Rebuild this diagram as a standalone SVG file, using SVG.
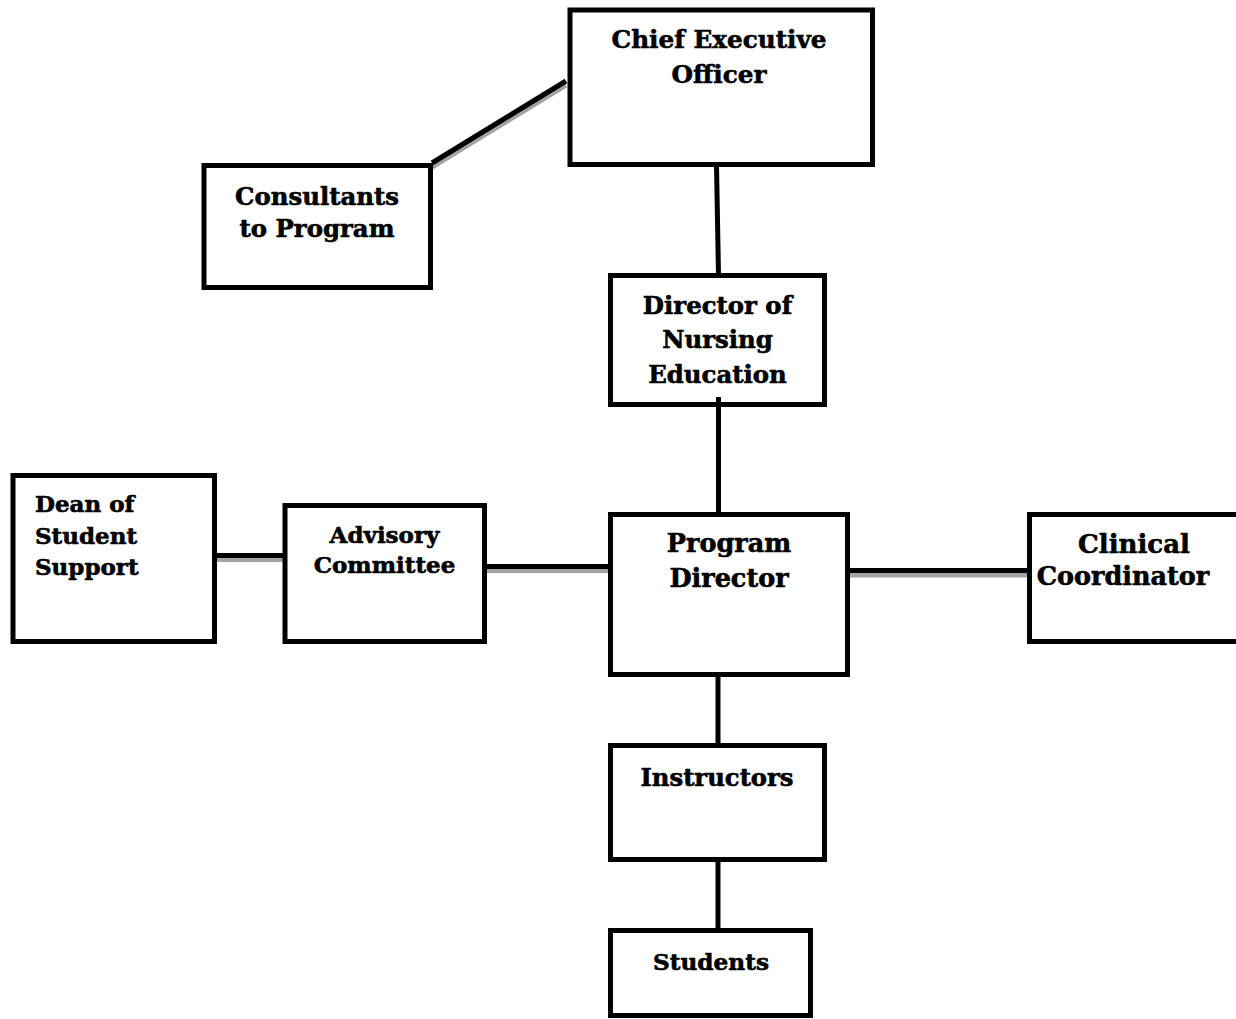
<svg xmlns="http://www.w3.org/2000/svg" width="1236" height="1019" viewBox="0 0 1236 1019">
<style>
.box{fill:none;stroke:#000;stroke-width:5}
.ln{stroke:#000;stroke-width:5;fill:none}
.sh{stroke:#a3a3a3;stroke-width:5;fill:none}
text{font-family:"DejaVu Serif","Liberation Serif",serif;font-weight:bold;fill:#000;stroke:#000;stroke-width:0.6}
.c{text-anchor:middle}
</style>
<rect width="1236" height="1019" fill="#fff"/>
<g id="connectors">
<line class="sh" x1="432" y1="167" x2="566" y2="85"/>
<line class="ln" x1="432" y1="163" x2="566" y2="81"/>
<line class="ln" x1="716.5" y1="165" x2="718.5" y2="275"/>
<line class="ln" x1="718.5" y1="397" x2="718.5" y2="514"/>
<line class="sh" x1="214" y1="559.5" x2="285" y2="559.5"/>
<line class="ln" x1="214" y1="555.5" x2="285" y2="555.5"/>
<line class="sh" x1="484" y1="570.5" x2="610" y2="570.5"/>
<line class="ln" x1="484" y1="566.5" x2="610" y2="566.5"/>
<line class="sh" x1="847" y1="575" x2="1029" y2="575"/>
<line class="ln" x1="847" y1="570.5" x2="1029" y2="570.5"/>
<line class="ln" x1="718" y1="675" x2="718" y2="746"/>
<line class="ln" x1="718" y1="859" x2="718" y2="931"/>
</g>
<g id="ceo">
<rect class="box" x="570" y="10" width="302.5" height="154.5"/>
<text class="c" x="719" y="48" font-size="24.7">Chief Executive</text>
<text class="c" x="719" y="83" font-size="24.7">Officer</text>
</g>
<g id="consultants">
<rect class="box" x="204" y="165.5" width="226.5" height="122"/>
<text class="c" x="317" y="205" font-size="24.4">Consultants</text>
<text class="c" x="317" y="237" font-size="24.4">to Program</text>
</g>
<g id="director-nursing">
<rect class="box" x="610.5" y="275.5" width="214" height="129"/>
<text class="c" x="717.5" y="314" font-size="24.4">Director of</text>
<text class="c" x="717.5" y="348" font-size="24.4">Nursing</text>
<text class="c" x="717.5" y="383" font-size="24.4">Education</text>
</g>
<g id="dean">
<rect class="box" x="13" y="475.5" width="201.5" height="166"/>
<text x="35" y="512" font-size="23">Dean of</text>
<text x="35" y="544" font-size="23">Student</text>
<text x="35" y="575" font-size="23">Support</text>
</g>
<g id="advisory">
<rect class="box" x="285" y="505.5" width="199.5" height="136"/>
<text class="c" x="384.5" y="543" font-size="23">Advisory</text>
<text class="c" x="384.5" y="573" font-size="23">Committee</text>
</g>
<g id="program-director">
<rect class="box" x="610.5" y="514.5" width="237" height="160"/>
<text class="c" x="729" y="552" font-size="25.5">Program</text>
<text class="c" x="729" y="587" font-size="25.5">Director</text>
</g>
<g id="clinical">
<rect class="box" x="1029.5" y="514.5" width="212" height="127"/>
<text class="c" x="1134" y="553" font-size="26">Clinical</text>
<text class="c" x="1123" y="585" font-size="25.5">Coordinator</text>
</g>
<g id="instructors">
<rect class="box" x="610.5" y="745.5" width="214" height="114"/>
<text class="c" x="717" y="786" font-size="24.3">Instructors</text>
</g>
<g id="students">
<rect class="box" x="610.5" y="930.5" width="200" height="85"/>
<text class="c" x="711" y="970" font-size="23.2">Students</text>
</g>
</svg>
